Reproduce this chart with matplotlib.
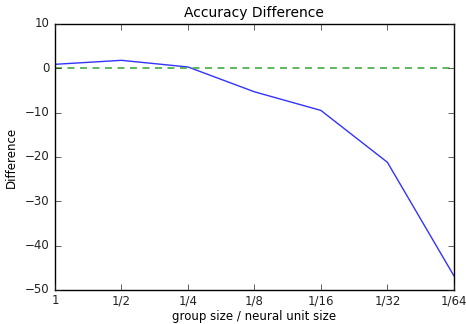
import matplotlib
matplotlib.use("Agg")
import matplotlib.pyplot as plt

plt.style.use('classic')

tick_labels = ["1", "1/2", "1/4", "1/8", "1/16", "1/32", "1/64"]
difference = [0.9, 1.8, 0.3, -5.3, -9.5, -21.2, -46.8]
baseline = [0, 0, 0, 0, 0, 0, 0]

fig = plt.figure(figsize=(4.66, 3.24), dpi=100, facecolor='white')
ax = fig.add_axes([0.118, 0.105, 0.856, 0.821])
x = list(range(len(tick_labels)))
ax.plot(x, difference, color='#3333ff', linewidth=1.0)
ax.plot(x, baseline, color='#44aa44', linestyle='--', linewidth=1.2, dashes=(5, 4))
ax.set_xlim(0, len(tick_labels) - 1)
ax.set_ylim(-50, 10)
ax.set_xticks(x)
ax.set_xticklabels(tick_labels)
ax.set_yticks([-50, -40, -30, -20, -10, 0, 10])
ax.tick_params(labelsize=8.5, colors='#222222')
ax.tick_params(axis='x', pad=3)
ax.set_title("Accuracy Difference", fontsize=10)
ax.set_xlabel("group size / neural unit size", fontsize=8.5, labelpad=2)
ax.set_ylabel("Difference", fontsize=8.5)
fig.savefig("out.png", dpi=100, facecolor='white')
